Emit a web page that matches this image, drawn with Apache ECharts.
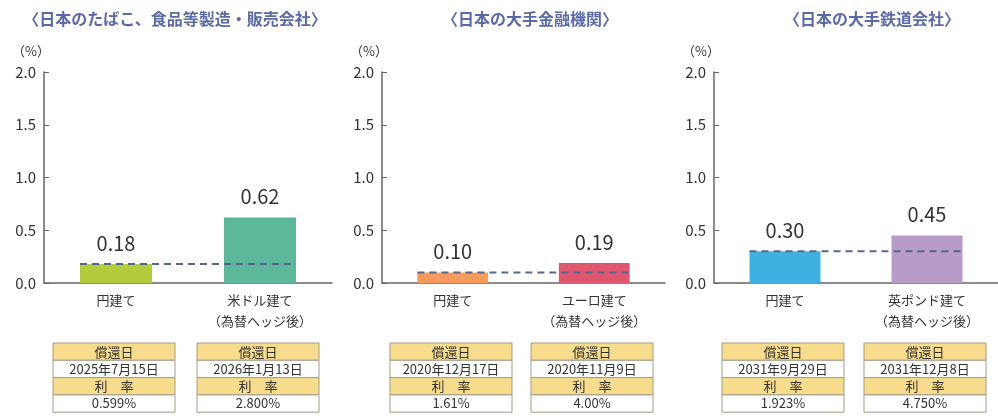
<!doctype html>
<html lang="ja">
<head>
    <meta charset="UTF-8">
    <title>利回り比較</title>
    <script type="text/javascript" src="https://cdn.jsdelivr.net/npm/echarts@6/dist/echarts.min.js"></script>
    <style>
        html, body { margin: 0; padding: 0; background: #fff; }
        #container { width: 998px; height: 418px; }
    </style>
</head>
<body>
<div id="container"></div>
<script type="text/javascript">

    // data
    var titles = ['〈日本のたばこ、食品等製造・販売会社〉', '〈日本の大手金融機関〉', '〈日本の大手鉄道会社〉'];
    var categories = [
        ['円建て', '米ドル建て\n（為替ヘッジ後）'],
        ['円建て', 'ユーロ建て\n（為替ヘッジ後）'],
        ['円建て', '英ポンド建て\n（為替ヘッジ後）']
    ];
    var values = [[0.18, 0.62], [0.10, 0.19], [0.30, 0.45]];
    var barColors = [['#b3cc3c', '#5db89b'], ['#f39a5c', '#e0566f'], ['#3fb0e0', '#b99bc9']];
    var redemption = [['2025年7月15日', '2026年1月13日'], ['2020年12月17日', '2020年11月9日'], ['2031年9月29日', '2031年12月8日']];
    var rates = [['0.599%', '2.800%'], ['1.61%', '4.00%'], ['1.923%', '4.750%']];
    var yTicks = { min: 0, max: 2, interval: 0.5 };

    var font = '"Noto Sans CJK JP", "Noto Sans", sans-serif';
    var grids = [
        { left: 44, width: 288, top: 72, height: 211 },
        { left: 382, width: 283, top: 72, height: 211 },
        { left: 714, width: 284, top: 72, height: 211 }
    ];
    var titleCenters = [170, 525, 867];
    var barFrac = 0.5;

    var dom = document.getElementById("container");
    var myChart = echarts.init(dom);

    var option = {
        animation: false,
        textStyle: { fontFamily: font },
        title: [],
        grid: grids,
        xAxis: [],
        yAxis: [],
        series: []
    };

    for (var i = 0; i < 3; i++) {
        option.title.push({
            text: titles[i],
            left: titleCenters[i],
            top: 6,
            textAlign: 'center',
            textStyle: { fontFamily: font, fontSize: 16, fontWeight: 'bold', color: '#5b6aa6' }
        });
        option.xAxis.push({
            gridIndex: i,
            type: 'category',
            data: categories[i],
            axisLine: { onZero: false, lineStyle: { color: '#666', width: 1.5 } },
            axisTick: { show: false },
            axisLabel: { fontSize: 13, color: '#333', lineHeight: 21, margin: 7 }
        });
        option.xAxis.push({
            gridIndex: i,
            type: 'value',
            min: -0.5,
            max: 1.5,
            show: false
        });
        option.yAxis.push({
            gridIndex: i,
            type: 'value',
            min: yTicks.min,
            max: yTicks.max,
            interval: yTicks.interval,
            name: '（%）',
            nameLocation: 'end',
            nameGap: 14,
            nameTextStyle: { fontSize: 13, color: '#333', align: 'right', padding: [0, -6, 0, 0] },
            axisLine: { show: true, onZero: false, lineStyle: { color: '#666', width: 1.5 } },
            axisTick: { show: true, inside: true, length: 5, lineStyle: { color: '#666' } },
            splitLine: { show: false },
            axisLabel: {
                fontSize: 15, color: '#333', margin: 8,
                formatter: function (v) { return v.toFixed(1); }
            }
        });
        option.series.push({
            type: 'bar',
            xAxisIndex: 2 * i,
            yAxisIndex: i,
            barWidth: (barFrac * 100) + '%',
            data: values[i].map(function (v, j) {
                return { value: v, itemStyle: { color: barColors[i][j] } };
            }),
            label: {
                show: true,
                position: 'top',
                distance: 11,
                fontSize: 20,
                color: '#333',
                formatter: function (p) { return p.value.toFixed(2); }
            }
        });
        option.series.push({
            type: 'line',
            xAxisIndex: 2 * i + 1,
            yAxisIndex: i,
            symbol: 'none',
            data: [[-barFrac / 2, values[i][0]], [1 + barFrac / 2, values[i][0]]],
            lineStyle: { type: [7, 5], color: '#55688c', width: 2 },
            z: 5
        });
    }

    myChart.setOption(option, true);

    // tables under each bar
    var graphic = [];
    var tW = 122, rowH = 17.3, tTop = 343;
    for (var i = 0; i < 3; i++) {
        for (var j = 0; j < 2; j++) {
            var cx = myChart.convertToPixel({ xAxisIndex: 2 * i }, categories[i][j]);
            var x0 = Math.round(cx - tW / 2) - 2;
            var rows = ['償還日', redemption[i][j], '利　率', rates[i][j]];
            for (var r = 0; r < 4; r++) {
                graphic.push({
                    type: 'rect',
                    shape: { x: x0, y: tTop + r * rowH, width: tW, height: rowH },
                    style: { fill: r % 2 === 0 ? '#f6dc8c' : '#ffffff', stroke: '#a59b86', lineWidth: 1 }
                });
                graphic.push({
                    type: 'text',
                    x: x0 + tW / 2,
                    y: tTop + r * rowH + rowH / 2,
                    style: {
                        text: rows[r], fontFamily: font, fontSize: 13, fill: '#333',
                        align: 'center', verticalAlign: 'middle'
                    }
                });
            }
        }
    }
    myChart.setOption({ graphic: graphic });

</script>
</body>
</html>
